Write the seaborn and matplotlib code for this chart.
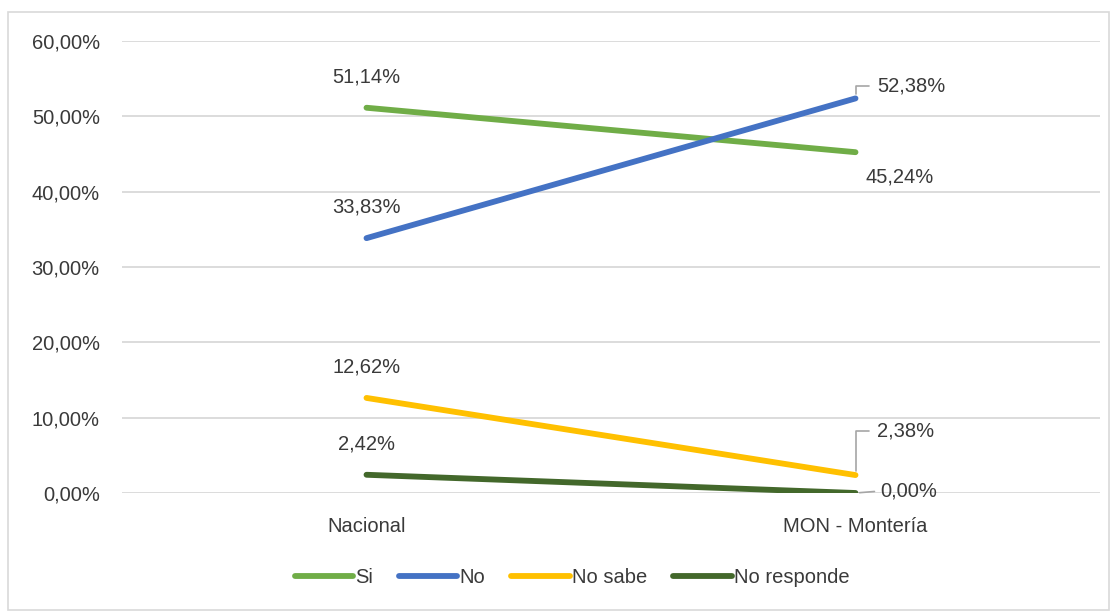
import matplotlib
matplotlib.use("Agg")
import matplotlib.pyplot as plt
import matplotlib.patches as mpatches
from matplotlib.ticker import FuncFormatter, MultipleLocator
import pandas as pd
import seaborn as sns

# datos del grafico
categorias = ["Nacional", "MON - Montería"]
series = ["Si", "No", "No sabe", "No responde"]
valores_si = [51.14, 45.24]
valores_no = [33.83, 52.38]
valores_no_sabe = [12.62, 2.38]
valores_no_responde = [2.42, 0.00]
colores = ["#70AD47", "#4472C4", "#FFC000", "#43682B"]

df = pd.DataFrame({
    "categoria": categorias * 4,
    "serie": [s for s in series for _ in categorias],
    "valor": valores_si + valores_no + valores_no_sabe + valores_no_responde,
})

sns.set_style("white")
plt.rcParams["font.family"] = ["Liberation Sans", "DejaVu Sans"]
texto = "#3A3A3A"
fs = 14.5

fig = plt.figure(figsize=(11.17, 6.12), dpi=100)
ax = fig.add_axes([122 / 1117, 1 - 493 / 612, (1100 - 122) / 1117, (493 - 41) / 612])

# marco del grafico
fig.patches.append(mpatches.Rectangle((8 / 1117, 2 / 612), 1101 / 1117, 598 / 612,
                                      transform=fig.transFigure, fill=False,
                                      edgecolor="#D9D9D9", linewidth=1.2))

sns.lineplot(data=df, x="categoria", y="valor", hue="serie", hue_order=series,
             palette=colores, linewidth=4.2, ax=ax, sort=False, legend=True,
             solid_capstyle="round")

ax.set_xlim(-0.5, 1.5)
ax.set_ylim(0, 60)
ax.yaxis.set_major_locator(MultipleLocator(10))
ax.yaxis.set_major_formatter(FuncFormatter(lambda v, p: f"{v:.2f}%".replace(".", ",")))
ax.grid(axis="y", color="#D9D9D9", linewidth=1.3)
ax.set_axisbelow(True)
for s in ax.spines.values():
    s.set_visible(False)
ax.tick_params(axis="both", length=0, labelsize=fs, labelcolor=texto)
ax.tick_params(axis="y", pad=16)
ax.tick_params(axis="x", pad=17)
ax.set_xlabel("")
ax.set_ylabel("")

def fmt(v):
    return f"{v:.2f}%".replace(".", ",")

todas = [valores_si, valores_no, valores_no_sabe, valores_no_responde]

# etiquetas Nacional (encima del punto)
for vals in todas:
    ax.annotate(fmt(vals[0]), (0, vals[0]), xytext=(0, 31), textcoords="offset pixels",
                ha="center", va="center", fontsize=fs, color=texto)

# etiquetas Montería
leader = dict(arrowstyle="-", color="#A6A6A6", lw=1.2, shrinkA=4, shrinkB=3,
              relpos=(0, 0.5), connectionstyle="angle,angleA=0,angleB=90,rad=0")
ax.annotate(fmt(valores_no[1]), (1, valores_no[1]), xytext=(22, 12), textcoords="offset pixels",
            ha="left", va="center", fontsize=fs, color=texto, arrowprops=leader)
ax.annotate(fmt(valores_si[1]), (1, valores_si[1]), xytext=(44, -25), textcoords="offset pixels",
            ha="center", va="center", fontsize=fs, color=texto)
ax.annotate(fmt(valores_no_sabe[1]), (1, valores_no_sabe[1]), xytext=(22, 44), textcoords="offset pixels",
            ha="left", va="center", fontsize=fs, color=texto, arrowprops=leader)
ax.annotate(fmt(valores_no_responde[1]), (1, valores_no_responde[1]), xytext=(25, 2),
            textcoords="offset pixels", ha="left", va="center", fontsize=fs, color=texto,
            arrowprops=dict(arrowstyle="-", color="#A6A6A6", lw=1.2, shrinkA=2, shrinkB=3,
                            relpos=(0, 0.5)), annotation_clip=False)

handles, labels = ax.get_legend_handles_labels()
ax.legend_.remove()
fig.legend(handles, labels, loc="center", bbox_to_anchor=(0.512, 0.056), ncol=4,
           frameon=False, fontsize=fs, handlelength=2.9, handletextpad=0.1,
           columnspacing=1.3, labelcolor=texto)

fig.savefig("out.png", dpi=100)
